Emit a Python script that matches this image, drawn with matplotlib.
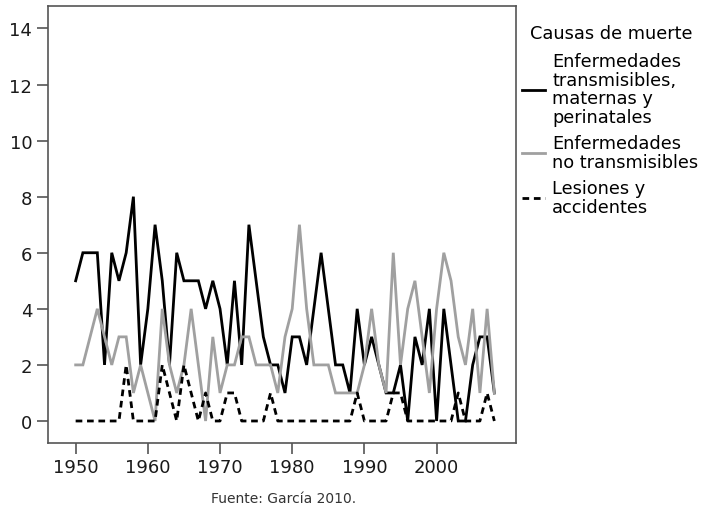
import matplotlib
matplotlib.use("Agg")
import matplotlib.pyplot as plt

plt.rcParams['font.family'] = ['DejaVu Sans']

years = list(range(1950, 2009))

transmisibles = [5, 6, 6, 6, 2, 6, 5, 6, 8, 2,
                 4, 7, 5, 2, 6, 5, 5, 5, 4, 5,
                 4, 2, 5, 2, 7, 5, 3, 2, 2, 1,
                 3, 3, 2, 4, 6, 4, 2, 2, 1, 4,
                 2, 3, 2, 1, 1, 2, 0, 3, 2, 4,
                 0, 4, 2, 0, 0, 2, 3, 3, 1]

no_transmisibles = [2, 2, 3, 4, 3, 2, 3, 3, 1, 2,
                    1, 0, 4, 2, 1, 2, 4, 2, 0, 3,
                    1, 2, 2, 3, 3, 2, 2, 2, 1, 3,
                    4, 7, 4, 2, 2, 2, 1, 1, 1, 1,
                    2, 4, 2, 1, 6, 2, 4, 5, 3, 1,
                    4, 6, 5, 3, 2, 4, 1, 4, 1]

lesiones = [0, 0, 0, 0, 0, 0, 0, 2, 0, 0,
            0, 0, 2, 1, 0, 2, 1, 0, 1, 0,
            0, 1, 1, 0, 0, 0, 0, 1, 0, 0,
            0, 0, 0, 0, 0, 0, 0, 0, 0, 1,
            0, 0, 0, 0, 1, 1, 0, 0, 0, 0,
            0, 0, 0, 1, 0, 0, 0, 1, 0]

labels = ["Enfermedades\ntransmisibles,\nmaternas y\nperinatales",
          "Enfermedades\nno transmisibles",
          "Lesiones y\naccidentes"]
legend_title = "Causas de muerte"
source = "Fuente: García 2010."
yticks = [0, 2, 4, 6, 8, 10, 12, 14]
xticks = [1950, 1960, 1970, 1980, 1990, 2000]

W, H = 705, 510
fig = plt.figure(figsize=(W / 100, H / 100), dpi=100)
ax = fig.add_axes([47.5 / W, 1 - 444 / H, (516 - 47.5) / W, (444 - 7) / H])

l1, = ax.plot(years, transmisibles, color='black', lw=2.0, solid_joinstyle='miter')
l2, = ax.plot(years, no_transmisibles, color='#a0a0a0', lw=2.0, solid_joinstyle='miter')
l3, = ax.plot(years, lesiones, color='black', lw=2.0, linestyle=(0, (2.4, 1.7)))

ax.set_xlim(1946.1, 2011.0)
ax.set_ylim(-0.785, 14.8)
ax.set_xticks(xticks)
ax.set_yticks(yticks)
for s in ax.spines.values():
    s.set_color('#555555')
    s.set_linewidth(1.2)
ax.tick_params(axis='both', direction='out', length=8, width=1.2, color='#555555',
               labelsize=13, labelcolor='#1a1a1a', pad=3)

fig.text(530 / W, 1 - 39 / H, legend_title, fontsize=12.8, color='black', va='baseline', ha='left')

leg = fig.legend([l1, l2, l3], labels, loc='upper left',
                 bbox_to_anchor=(522 / W, 1 - 53 / H), frameon=False,
                 fontsize=12.8, handlelength=1.3, handletextpad=0.4,
                 borderpad=0, borderaxespad=0, labelspacing=0.46)
for t in leg.get_texts():
    t.set_linespacing(1.05)

fig.text(284 / W, 1 - 499 / H, source, fontsize=10, color='#333333', ha='center', va='center')

fig.savefig('out.png', dpi=100)
